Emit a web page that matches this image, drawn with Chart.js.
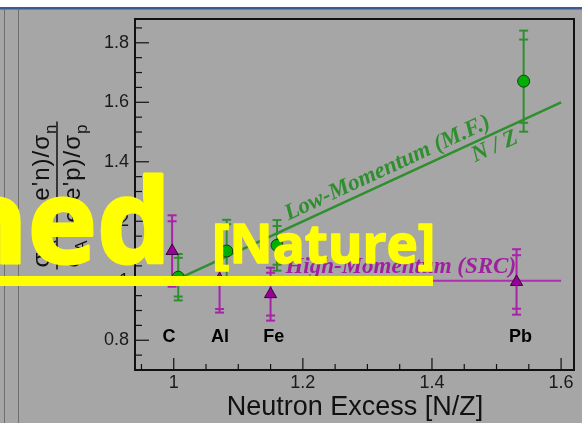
<!DOCTYPE html>
<html>
<head>
<meta charset="utf-8">
<script src="https://cdn.jsdelivr.net/npm/chart.js@4.4.1/dist/chart.umd.min.js"></script>
<style>
  html, body { margin: 0; padding: 0; background: #a6a6a6; overflow: hidden; }
</style>
</head>
<body>
<canvas id="chartRatio" width="582" height="423"></canvas>
<script>
// n/p ratio vs neutron excess, low- and high-momentum nucleons
const nuclei = ["C", "Al", "Fe", "Pb"];
const lowX = [1.007, 1.082, 1.16, 1.542];
const lowY = [1.012, 1.10, 1.119, 1.671];
const lowErrStat = [0.065, 0.09, 0.065, 0.14];
const lowErrTot = [0.078, 0.105, 0.085, 0.17];
const highX = [0.9975, 1.071, 1.15, 1.531];
const highY = [1.10, 1.005, 0.955, 0.996];
const highErrStat = [0.10, 0.10, 0.072, 0.09];
const highErrTot = [0.12, 0.112, 0.089, 0.11];
const labelX = [0.9926, 1.0715, 1.155, 1.537];
const labelY = 0.812;
const nzRange = [1.0, 1.6];
const srcLevel = 1.0;
const xTicks = [1.0, 1.2, 1.4, 1.6];
const yTicks = [0.8, 1.0, 1.2, 1.4, 1.6, 1.8];

const GREEN = '#2f8f2f';
const MAGENTA = '#b02cb0';

function fmt(v) {
    return String(Math.round(v * 10) / 10);
}

function line(ctx, x1, y1, x2, y2) {
    ctx.beginPath();
    ctx.moveTo(x1, y1);
    ctx.lineTo(x2, y2);
    ctx.stroke();
}

function drawErrors(ctx, sx, sy, xs, ys, stat, tot, color) {
    ctx.save();
    ctx.strokeStyle = color;
    ctx.lineWidth = 2;
    xs.forEach((x, i) => {
        const px = sx.getPixelForValue(x);
        line(ctx, px, sy.getPixelForValue(ys[i] + tot[i]), px, sy.getPixelForValue(ys[i] - tot[i]));
        [tot[i], -tot[i], stat[i], -stat[i]].forEach(e => {
            const py = sy.getPixelForValue(ys[i] + e);
            line(ctx, px - 4.5, py, px + 4.5, py);
        });
    });
    ctx.restore();
}

// text with subscripts, parts = [[text, isSub], ...]
function drawParts(ctx, parts, x, y, size) {
    let cx = x;
    parts.forEach(([t, sub]) => {
        ctx.font = (sub ? Math.round(size * 0.7) : size) + 'px "Liberation Sans", Arial, sans-serif';
        ctx.fillText(t, cx, sub ? y + size * 0.28 : y);
        cx += ctx.measureText(t).width;
    });
    return cx - x;
}
function partsWidth(ctx, parts, size) {
    let w = 0;
    parts.forEach(([t, sub]) => {
        ctx.font = (sub ? Math.round(size * 0.7) : size) + 'px "Liberation Sans", Arial, sans-serif';
        w += ctx.measureText(t).width;
    });
    return w;
}

const slidePlugin = {
    id: 'slide',
    beforeDraw(chart) {
        const ctx = chart.ctx;
        ctx.save();
        ctx.fillStyle = '#a6a6a6';
        ctx.fillRect(0, 0, chart.width, chart.height);
        ctx.fillStyle = '#ffffff';
        ctx.fillRect(0, 0, chart.width, 7);
        ctx.fillStyle = '#3c5a95';
        ctx.fillRect(0, 7, chart.width, 2.5);
        ctx.strokeStyle = '#6f6f6f';
        ctx.lineWidth = 1;
        line(ctx, 4.5, 9, 4.5, chart.height);
        line(ctx, 18.5, 9, 18.5, chart.height);
        ctx.restore();
    },
    beforeDatasetsDraw(chart) {
        const ctx = chart.ctx, sx = chart.scales.x, sy = chart.scales.y;
        drawErrors(ctx, sx, sy, lowX, lowY, lowErrStat, lowErrTot, GREEN);
        drawErrors(ctx, sx, sy, highX, highY, highErrStat, highErrTot, '#aa22aa');
    },
    afterDatasetsDraw(chart) {
        const ctx = chart.ctx, sx = chart.scales.x, sy = chart.scales.y;
        const a = chart.chartArea;
        ctx.save();

        // frame
        ctx.strokeStyle = '#111';
        ctx.lineWidth = 2;
        ctx.strokeRect(a.left, a.top, a.right - a.left, a.bottom - a.top);

        // inward ticks
        ctx.lineWidth = 1.2;
        for (let v = 0.95; v <= 1.601; v += 0.05) {
            const px = sx.getPixelForValue(v);
            const major = Math.abs(v * 5 - Math.round(v * 5)) < 1e-6;
            line(ctx, px, a.bottom, px, a.bottom - (major ? 12 : 6));
        }
        for (let v = 0.75; v <= 1.851; v += 0.05) {
            const py = sy.getPixelForValue(v);
            const major = Math.abs(v * 5 - Math.round(v * 5)) < 1e-6;
            line(ctx, a.left, py, a.left + (major ? 14 : 7), py);
        }

        // nucleus labels
        ctx.fillStyle = '#000';
        ctx.font = 'bold 18px "Liberation Sans", Arial, sans-serif';
        ctx.textAlign = 'center';
        ctx.textBaseline = 'middle';
        nuclei.forEach((n, i) => ctx.fillText(n, sx.getPixelForValue(labelX[i]), sy.getPixelForValue(labelY)));

        // line annotations
        const p1x = sx.getPixelForValue(nzRange[0]), p1y = sy.getPixelForValue(nzRange[0]);
        const p2x = sx.getPixelForValue(nzRange[1]), p2y = sy.getPixelForValue(nzRange[1]);
        const ang = Math.atan2(p2y - p1y, p2x - p1x);
        ctx.textAlign = 'left';
        ctx.textBaseline = 'alphabetic';
        ctx.font = 'italic bold 23px "Liberation Serif", "Times New Roman", serif';
        ctx.fillStyle = GREEN;
        [['Low-Momentum (M.F.)', 1.1776, 1.203], ['N / Z', 1.467, 1.398]].forEach(([t, x, y]) => {
            ctx.save();
            ctx.translate(sx.getPixelForValue(x), sy.getPixelForValue(y));
            ctx.rotate(ang);
            ctx.fillText(t, 0, 0);
            ctx.restore();
        });
        ctx.font = 'italic bold 23px "Liberation Serif", "Times New Roman", serif';
        ctx.fillStyle = '#a020a0';
        ctx.fillText('High-Momentum (SRC)', sx.getPixelForValue(1.173), sy.getPixelForValue(1.025));

        // axis titles
        ctx.fillStyle = '#111';
        ctx.font = '27px "Liberation Sans", Arial, sans-serif';
        ctx.textAlign = 'center';
        ctx.fillText('Neutron Excess [N/Z]', (a.left + a.right) / 2 + 0.5, 415);

        ctx.save();
        ctx.translate(57, (a.top + a.bottom) / 2 + 1);
        ctx.rotate(-Math.PI / 2);
        ctx.textAlign = 'left';
        ctx.letterSpacing = '1px';
        const num = [['σ', false], ['A', true], [' (e,e\'n)/σ', false], ['n', true]];
        const den = [['σ', false], ['A', true], [' (e,e\'p)/σ', false], ['p', true]];
        const size = 24;
        const wn = partsWidth(ctx, num, size), wd = partsWidth(ctx, den, size);
        drawParts(ctx, num, -wn / 2, -8, size);
        drawParts(ctx, den, -wd / 2, 23, size);
        ctx.letterSpacing = '0px';
        ctx.lineWidth = 1.5;
        ctx.strokeStyle = '#111';
        const wb = Math.max(wn, wd) / 2 + 2;
        line(ctx, -wb, 0, wb, 0);
        ctx.restore();

        // yellow slide overlay
        ctx.fillStyle = '#ffff00';
        ctx.strokeStyle = '#ffff00';
        ctx.lineJoin = 'round';
        ctx.textAlign = 'right';
        ctx.font = 'bold 117px "Open Sans", sans-serif';
        ctx.lineWidth = 3;
        ctx.fillText('ned', 171, 263);
        ctx.strokeText('ned', 171, 263);
        ctx.textAlign = 'left';
        ctx.font = 'bold 53px "Open Sans", sans-serif';
        ctx.lineWidth = 1.5;
        ctx.fillText('[Nature]', 212, 263);
        ctx.strokeText('[Nature]', 212, 263);
        ctx.fillRect(0, 276, 433, 10);

        ctx.restore();
    }
};

const ctx = document.getElementById('chartRatio').getContext('2d');
new Chart(ctx, {
    type: 'scatter',
    data: {
        datasets: [
            {
                label: 'Low-Momentum',
                data: lowX.map((x, i) => ({ x: x, y: lowY[i] })),
                pointStyle: 'circle',
                pointRadius: 6,
                backgroundColor: '#00b000',
                borderColor: '#1a3a1a',
                borderWidth: 1,
            },
            {
                label: 'High-Momentum',
                data: highX.map((x, i) => ({ x: x, y: highY[i] })),
                pointStyle: 'triangle',
                pointRadius: 7,
                backgroundColor: '#990099',
                borderColor: '#3a003a',
                borderWidth: 1,
            },
            {
                label: 'N/Z',
                data: nzRange.map(v => ({ x: v, y: v })),
                showLine: true,
                pointRadius: 0,
                borderColor: GREEN,
                borderWidth: 2.5,
            },
            {
                label: 'SRC',
                data: nzRange.map(v => ({ x: v, y: srcLevel })),
                showLine: true,
                pointRadius: 0,
                borderColor: MAGENTA,
                borderWidth: 2,
            },
        ]
    },
    options: {
        responsive: false,
        animation: false,
        layout: { padding: { top: 19, right: 8, left: 0, bottom: 0 } },
        scales: {
            x: {
                type: 'linear',
                min: 0.94,
                max: 1.62,
                afterFit(s) { s.height = 53; },
                afterBuildTicks(s) { s.ticks = xTicks.map(v => ({ value: v })); },
                grid: { display: false, drawTicks: false },
                border: { display: false },
                ticks: {
                    color: '#1a1a1a',
                    font: { family: '"Liberation Sans", Arial, sans-serif', size: 18 },
                    padding: 2,
                    maxRotation: 0,
                    callback: v => fmt(v),
                }
            },
            y: {
                type: 'linear',
                min: 0.70,
                max: 1.88,
                afterFit(s) { s.width = 135; },
                afterBuildTicks(s) { s.ticks = yTicks.map(v => ({ value: v })); },
                grid: { display: false, drawTicks: false },
                border: { display: false },
                ticks: {
                    color: '#1a1a1a',
                    font: { family: '"Liberation Sans", Arial, sans-serif', size: 18 },
                    padding: 6,
                    callback: v => fmt(v),
                }
            }
        },
        plugins: {
            legend: { display: false },
            tooltip: { enabled: false },
            title: { display: false }
        }
    },
    plugins: [slidePlugin]
});
</script>
</body>
</html>
